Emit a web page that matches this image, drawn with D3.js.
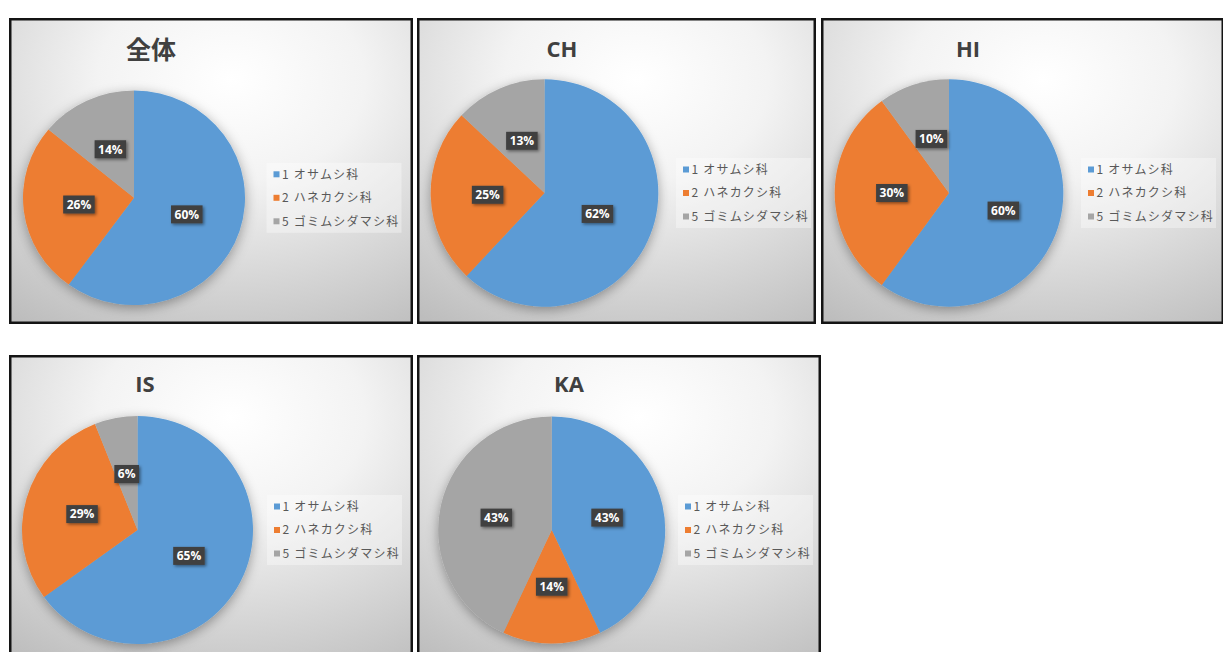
<!DOCTYPE html>
<html lang="ja">
<head>
<meta charset="utf-8">
<title>科別構成比</title>
<script src="https://cdn.jsdelivr.net/npm/d3@7"></script>
<style>
  html, body { margin: 0; padding: 0; background: #ffffff; }
  svg { display: block; }
</style>
</head>
<body>
<svg id="chart" width="1223" height="652"></svg>
<script>
// Families shown in every legend
const categories = ["1 オサムシ科", "2 ハネカクシ科", "5 ゴミムシダマシ科"];
const panelTitles = ["全体", "CH", "HI", "IS", "KA"];

// Share (%) of each family, per site
const sharesAll = [60, 26, 14];
const sharesCH  = [62, 25, 13];
const sharesHI  = [60, 30, 10];
const sharesIS  = [65, 29, 6];
const sharesKA  = [43, 14, 43];
const panelShares = [sharesAll, sharesCH, sharesHI, sharesIS, sharesKA];

const sliceColors = ["#5b9bd5", "#ed7d31", "#a5a5a5"];

// Frame, pie and legend placement of each chart panel
const layout = [
  { x0: 9,   y0: 18,  x1: 413,  y1: 324, cx: 134,   cy: 197.8, rx: 111,   ry: 107.3, tx: 151, ty: 59,  cjk: true,  lx: 273.5 },
  { x0: 417, y0: 18,  x1: 816,  y1: 324, cx: 544.5, cy: 193,   rx: 113.8, ry: 113.7, tx: 562, ty: 57,  cjk: false, lx: 683 },
  { x0: 821, y0: 18,  x1: 1224, y1: 324, cx: 949,   cy: 193,   rx: 114.3, ry: 113.7, tx: 968, ty: 57,  cjk: false, lx: 1088 },
  { x0: 9,   y0: 355, x1: 413,  y1: 662, cx: 137.5, cy: 530,   rx: 115.5, ry: 114,   tx: 145, ty: 392, cjk: false, lx: 274 },
  { x0: 417, y0: 355, x1: 821,  y1: 662, cx: 551.7, cy: 530,   rx: 113.5, ry: 113.5, tx: 569, ty: 392, cjk: false, lx: 685 }
];

const svg = d3.select("#chart");
const defs = svg.append("defs");

// Soft panel backdrop: bright near the upper middle, grey towards the edges
const bg = defs.append("radialGradient")
  .attr("id", "panelBg")
  .attr("cx", "0.55").attr("cy", "0.2").attr("r", "0.95")
  .attr("fx", "0.55").attr("fy", "0.2");
bg.append("stop").attr("offset", "0").attr("stop-color", "#ffffff");
bg.append("stop").attr("offset", "0.35").attr("stop-color", "#f3f3f3");
bg.append("stop").attr("offset", "1").attr("stop-color", "#bdbdbd");

// Blurred halo under each pie
const pieShadow = defs.append("filter").attr("id", "pieShadow")
  .attr("x", "-20%").attr("y", "-20%").attr("width", "140%").attr("height", "140%");
pieShadow.append("feDropShadow")
  .attr("dx", 0).attr("dy", 3).attr("stdDeviation", 6)
  .attr("flood-color", "#000").attr("flood-opacity", 0.35);

// Small drop shadow for value tags
const tagShadow = defs.append("filter").attr("id", "tagShadow")
  .attr("x", "-30%").attr("y", "-40%").attr("width", "170%").attr("height", "190%");
tagShadow.append("feDropShadow")
  .attr("dx", 1.5).attr("dy", 1.5).attr("stdDeviation", 1.5)
  .attr("flood-color", "#000").attr("flood-opacity", 0.45);

const pie = d3.pie().sort(null).value(d => d);
const color = d3.scaleOrdinal().domain(d3.range(categories.length)).range(sliceColors);

layout.forEach((L, i) => {
  const shares = panelShares[i];
  const g = svg.append("g").attr("class", "panel");

  // frame
  g.append("rect")
    .attr("x", L.x0 + 1.25).attr("y", L.y0 + 1.25)
    .attr("width", L.x1 - L.x0 - 2.5).attr("height", L.y1 - L.y0 - 2.5)
    .attr("fill", "url(#panelBg)")
    .attr("stroke", "#141414").attr("stroke-width", 2.5);

  // title
  g.append("text")
    .attr("x", L.tx).attr("y", L.ty)
    .attr("text-anchor", "middle")
    .attr("font-family", L.cjk ? "'Noto Sans CJK JP', sans-serif" : "'Open Sans', sans-serif")
    .attr("font-weight", "bold")
    .attr("font-size", L.cjk ? 25 : 22)
    .attr("fill", "#404040")
    .text(panelTitles[i]);

  // pie (drawn on a circle of radius ry, stretched horizontally to rx)
  const arcs = pie(shares);
  const arc = d3.arc().innerRadius(0).outerRadius(L.ry);
  const sx = L.rx / L.ry;
  const pg = g.append("g")
    .attr("transform", `translate(${L.cx},${L.cy}) scale(${sx},1)`)
    .attr("filter", "url(#pieShadow)");
  pg.selectAll("path")
    .data(arcs)
    .join("path")
    .attr("d", arc)
    .attr("fill", (d, k) => color(k));

  // value tags at slice centroids
  const tags = g.selectAll("g.tag")
    .data(arcs)
    .join("g")
    .attr("class", "tag")
    .attr("transform", d => {
      const c = arc.centroid(d);
      return `translate(${L.cx + c[0] * sx},${L.cy + c[1]})`;
    });
  tags.each(function (d) {
    const t = d3.select(this);
    const txt = t.append("text")
      .attr("text-anchor", "middle")
      .attr("dy", "0.36em")
      .attr("font-family", "'Open Sans', sans-serif")
      .attr("font-weight", "bold")
      .attr("font-size", 12)
      .attr("fill", "#ffffff")
      .text(d.data + "%");
    const w = txt.node().getComputedTextLength() + 7;
    t.insert("rect", "text")
      .attr("x", -w / 2).attr("y", -9)
      .attr("width", w).attr("height", 18)
      .attr("fill", "#404040")
      .attr("filter", "url(#tagShadow)");
  });

  // legend
  const rowGap = 23.5;
  const lg = g.append("g").attr("transform", `translate(${L.lx},${L.cy})`);
  lg.append("rect")
    .attr("x", -7).attr("y", -35)
    .attr("width", 135).attr("height", 70)
    .attr("fill", "#ffffff").attr("fill-opacity", 0.35);
  const rows = lg.selectAll("g.row")
    .data(categories)
    .join("g")
    .attr("class", "row")
    .attr("transform", (d, k) => `translate(0,${(k - 1) * rowGap})`);
  rows.append("rect")
    .attr("x", 0).attr("y", -3)
    .attr("width", 6).attr("height", 6)
    .attr("fill", (d, k) => color(k));
  rows.append("text")
    .attr("x", 8.5).attr("dy", "0.36em")
    .attr("font-family", "'Noto Sans CJK JP', sans-serif")
    .attr("font-size", 12)
    .attr("letter-spacing", "1.2px")
    .attr("fill", "#595959")
    .text(d => d);
});
</script>
</body>
</html>
